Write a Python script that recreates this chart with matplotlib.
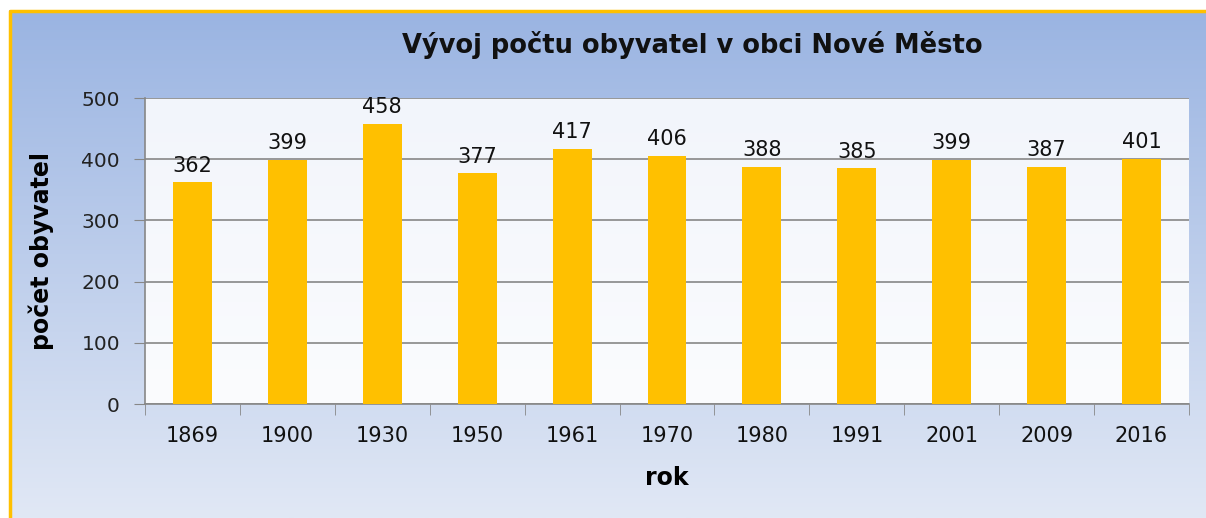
import matplotlib

matplotlib.use("Agg")
import matplotlib.pyplot as plt
import numpy as np
from matplotlib.colors import LinearSegmentedColormap

years = ["1869", "1900", "1930", "1950", "1961", "1970", "1980", "1991", "2001", "2009", "2016"]
population = [362, 399, 458, 377, 417, 406, 388, 385, 399, 387, 401]
y_ticks = [0, 100, 200, 300, 400, 500]

fig = plt.figure(figsize=(12.06, 5.18), dpi=100)
fig.patch.set_facecolor("white")

# pozadí grafu s přechodem
bg = fig.add_axes([9 / 1206, 0, 1 - 9 / 1206, 1 - 10 / 518], zorder=-2)
bg_cmap = LinearSegmentedColormap.from_list("bg", ["#9AB4E2", "#E1E8F5"])
bg.imshow(np.linspace(0, 1, 256).reshape(-1, 1), aspect="auto", cmap=bg_cmap,
          extent=[0, 1, 0, 1])
bg.set_xlim(0, 1)
bg.set_ylim(0, 1)
bg.axis("off")
bg.plot([0.001, 0.001, 1], [0, 0.998, 0.998], color="#FFC000", lw=2.5,
        transform=bg.transAxes, clip_on=False)

ax = fig.add_axes([145 / 1206, 1 - 404 / 518, (1189 - 145) / 1206, (404 - 98) / 518])
plot_cmap = LinearSegmentedColormap.from_list("pl", ["#F2F5FB", "#FBFCFE"])
x = np.arange(len(years))
ax.imshow(np.linspace(0, 1, 256).reshape(-1, 1), aspect="auto", cmap=plot_cmap,
          extent=[-0.5, len(years) - 0.5, 0, 500], zorder=0)

ax.bar(x, population, width=0.41, color="#FFC000", zorder=3)
for xi, v in zip(x, population):
    ax.text(xi, v + 11, str(v), ha="center", va="bottom", fontsize=15, color="#111111", zorder=4)

ax.set_xlim(-0.5, len(years) - 0.5)
ax.set_ylim(0, 500)
ax.set_yticks(y_ticks)
ax.set_yticklabels([str(t) for t in y_ticks], fontsize=14.5, color="#222222")
ax.set_xticks(x)
ax.set_xticklabels(years, fontsize=15, color="#111111")
ax.tick_params(axis="x", length=0, pad=16)
ax.set_xticks(np.arange(len(years) + 1) - 0.5, minor=True)
ax.tick_params(axis="x", which="minor", length=8, color="#878787", direction="out")
ax.tick_params(axis="y", length=8, color="#878787", pad=10)
ax.grid(axis="y", color="#878787", lw=1.2, zorder=1)

for side in ["top", "right"]:
    ax.spines[side].set_visible(False)
for side in ["left", "bottom"]:
    ax.spines[side].set_color("#878787")
    ax.spines[side].set_linewidth(1.2)

ax.set_xlabel("rok", fontsize=17, fontweight="bold", labelpad=14)
ax.set_ylabel("počet obyvatel", fontsize=17, fontweight="bold", labelpad=20)
fig.text(692 / 1206, 1 - 45 / 518, "Vývoj počtu obyvatel v obci Nové Město", ha="center",
         va="center", fontsize=18.5, fontweight="bold", color="#111111")

plt.savefig("out.png", dpi=100)
plt.close()
